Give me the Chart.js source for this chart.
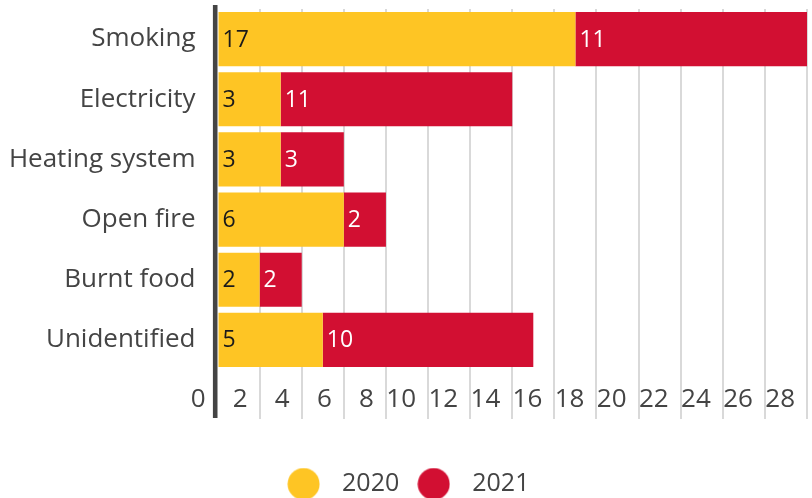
<!DOCTYPE html>
<html>
<head>
<meta charset="utf-8">
<script src="https://cdn.jsdelivr.net/npm/chart.js@4/dist/chart.umd.min.js"></script>
<style>
  html, body { margin: 0; padding: 0; background: #fff; }
  #wrap { width: 812px; height: 498px; position: relative; }
</style>
</head>
<body>
<div id="wrap"><canvas id="c" width="812" height="498"></canvas></div>
<script>
const categories = ['Smoking', 'Electricity', 'Heating system', 'Open fire', 'Burnt food', 'Unidentified'];
const values2020 = [17, 3, 3, 6, 2, 5];
const values2021 = [11, 11, 3, 2, 2, 10];
const seriesNames = ['2020', '2021'];
const xTicks = [0, 2, 4, 6, 8, 10, 12, 14, 16, 18, 20, 22, 24, 26, 28];

const YELLOW = '#FEC524';
const RED = '#D20F32';
const TEXT = '#444444';
const GRID = '#d9d9d9';
const FONT = "'Open Sans', sans-serif";

function makeDot(color) {
  const c = document.createElement('canvas');
  c.width = 33; c.height = 33;
  const g = c.getContext('2d');
  g.fillStyle = color;
  g.beginPath();
  g.arc(16.5, 16.5, 16, 0, Math.PI * 2);
  g.fill();
  return c;
}

const dataLabels = {
  id: 'dataLabels',
  afterDatasetsDraw(chart) {
    const ctx = chart.ctx;
    ctx.save();
    ctx.font = '23px ' + FONT;
    ctx.textAlign = 'left';
    ctx.textBaseline = 'middle';
    chart.data.datasets.forEach((ds, di) => {
      const meta = chart.getDatasetMeta(di);
      meta.data.forEach((bar, i) => {
        const left = Math.min(bar.base, bar.x);
        ctx.fillStyle = di === 0 ? '#1a1a1a' : '#ffffff';
        ctx.fillText(String(ds.data[i]), left + 4, bar.y + 1);
      });
    });
    ctx.restore();
  }
};

const zeroLine = {
  id: 'zeroLine',
  beforeDatasetsDraw(chart) {
    const ctx = chart.ctx;
    const x0 = chart.scales.x.getPixelForValue(0);
    ctx.save();
    ctx.fillStyle = TEXT;
    ctx.fillRect(x0 - 4.6, 5, 4.6, 413);
    ctx.restore();
  }
};

new Chart(document.getElementById('c'), {
  type: 'bar',
  data: {
    labels: categories,
    datasets: [
      { label: seriesNames[0], data: values2020, backgroundColor: YELLOW, pointStyle: makeDot(YELLOW), borderWidth: 0, barPercentage: 0.9, categoryPercentage: 1 },
      { label: seriesNames[1], data: values2021, backgroundColor: RED, pointStyle: makeDot(RED), borderWidth: 0, barPercentage: 0.9, categoryPercentage: 1 }
    ]
  },
  options: {
    indexAxis: 'y',
    responsive: false,
    animation: false,
    layout: { padding: { top: 9, right: 5, bottom: -8.5, left: 0 } },
    plugins: {
      tooltip: { enabled: false },
      legend: {
        position: 'bottom',
        labels: {
          usePointStyle: true,
          pointStyleWidth: 52,
          padding: 8.5,
          color: TEXT,
          font: { family: FONT, size: 25 }
        }
      }
    },
    scales: {
      x: {
        stacked: true,
        min: 0,
        max: 28,
        afterBuildTicks: (s) => { s.ticks = xTicks.map(v => ({ value: v })); },
        afterFit: (s) => { s.height = 93; s.paddingLeft = 0; s.paddingRight = 0; },
        border: { display: false },
        grid: {
          color: (c) => c.tick && c.tick.value === 0 ? 'rgba(0,0,0,0)' : GRID,
          tickColor: (c) => c.tick && c.tick.value === 0 ? 'rgba(0,0,0,0)' : GRID,
          lineWidth: 2,
          tickWidth: 2,
          tickLength: 49,
          drawTicks: true
        },
        ticks: {
          autoSkip: false,
          maxRotation: 0,
          align: 'end',
          labelOffset: -12,
          padding: -35.5,
          color: TEXT,
          font: { family: FONT, size: 26 }
        }
      },
      y: {
        stacked: true,
        afterFit: (s) => { s.width = 217.5; s.paddingTop = 0; s.paddingBottom = 0; },
        border: { display: false },
        grid: { display: false, drawTicks: false },
        ticks: {
          padding: 22,
          color: TEXT,
          font: { family: FONT, size: 26 }
        }
      }
    }
  },
  plugins: [zeroLine, dataLabels]
});
</script>
</body>
</html>
